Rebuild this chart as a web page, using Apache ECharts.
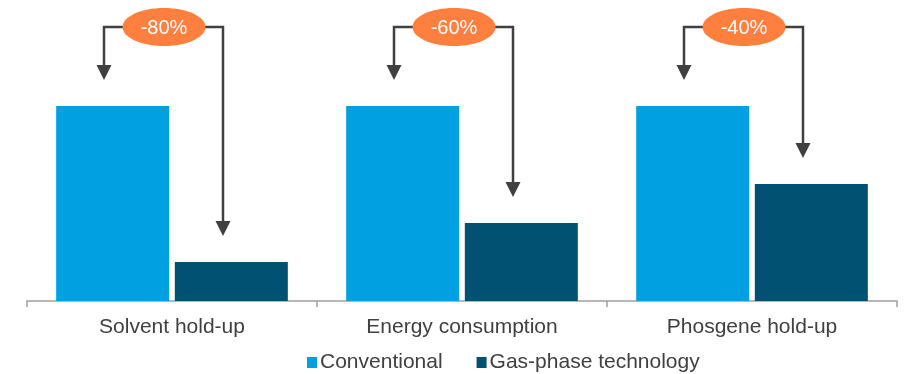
<!DOCTYPE html>
<html>
<head>
<meta charset="utf-8">
<script src="https://cdn.jsdelivr.net/npm/echarts@6/dist/echarts.min.js"></script>
<style>
  html, body { margin: 0; padding: 0; background: #ffffff; }
  #chart { width: 907px; height: 374px; }
</style>
</head>
<body>
<div id="chart"></div>
<script>
// Categories and relative values (conventional process = 100)
const categories = ['Solvent hold-up', 'Energy consumption', 'Phosgene hold-up'];
const conventional = [100, 100, 100];
const gasPhase = [20, 40, 60];
const reductionLabels = ['-80%', '-60%', '-40%'];

const FONT = '"Liberation Sans", Arial, sans-serif';
const TEXT = '#404040';
const ARROW = '#404040';

// One arrow record per category: [categoryIndex, conventionalValue, gasPhaseValue]
const arrowData = categories.map((c, i) => [i, conventional[i], gasPhase[i]]);

function renderArrow(params, api) {
  const idx = api.value(0);
  const base = api.coord([idx, 0]);
  const cx = base[0];
  const topLeft = api.coord([idx, api.value(1)]);
  const topRight = api.coord([idx, api.value(2)]);
  const lineY = 27;
  const leftX = cx - 68;
  const rightX = cx + 51;
  const leftTip = topLeft[1] - 26;
  const rightTip = topRight[1] - 26;
  const head = 15;
  const halfW = 7.5;
  const label = reductionLabels[params.dataIndex];
  return {
    type: 'group',
    children: [
      {
        type: 'polyline',
        shape: { points: [[leftX, leftTip - head + 1], [leftX, lineY], [rightX, lineY], [rightX, rightTip - head + 1]] },
        style: { stroke: ARROW, lineWidth: 2.5, fill: null }
      },
      {
        type: 'polygon',
        shape: { points: [[leftX - halfW, leftTip - head], [leftX + halfW, leftTip - head], [leftX, leftTip]] },
        style: { fill: ARROW }
      },
      {
        type: 'polygon',
        shape: { points: [[rightX - halfW, rightTip - head], [rightX + halfW, rightTip - head], [rightX, rightTip]] },
        style: { fill: ARROW }
      },
      {
        type: 'ellipse',
        shape: { cx: cx - 8, cy: lineY, rx: 41.5, ry: 19 },
        style: { fill: '#FF7F3F' }
      },
      {
        type: 'text',
        style: {
          x: cx - 8, y: lineY + 1,
          text: label,
          fill: '#ffffff',
          font: '20px ' + FONT,
          align: 'center',
          verticalAlign: 'middle'
        }
      }
    ]
  };
}

const chart = echarts.init(document.getElementById('chart'), null, { renderer: 'canvas' });
chart.setOption({
  animation: false,
  backgroundColor: '#ffffff',
  grid: { left: 27, right: 10, top: 8.5, bottom: 73 },
  legend: {
    top: 352,
    left: 307,
    padding: 0,
    itemWidth: 10,
    itemHeight: 11,
    itemGap: 34,
    icon: 'rect',
    textStyle: { color: TEXT, fontSize: 21, fontFamily: FONT, padding: [0, 0, 0, -2] },
    data: ['Conventional', 'Gas-phase technology']
  },
  xAxis: {
    type: 'category',
    data: categories,
    axisLine: { lineStyle: { color: '#a0a0a0', width: 1.5 } },
    axisTick: { show: true, length: 6, lineStyle: { color: '#a0a0a0', width: 1.5 } },
    axisLabel: { color: TEXT, fontSize: 21, fontFamily: FONT, margin: 16 }
  },
  yAxis: {
    type: 'value',
    min: 0,
    max: 150,
    show: false,
    splitLine: { show: false }
  },
  series: [
    {
      name: 'Conventional',
      type: 'bar',
      data: conventional,
      barWidth: 113,
      barGap: '5%',
      itemStyle: { color: '#00A0E1' }
    },
    {
      name: 'Gas-phase technology',
      type: 'bar',
      data: gasPhase,
      barWidth: 113,
      barGap: '5%',
      itemStyle: { color: '#005172' }
    },
    {
      name: 'arrows',
      type: 'custom',
      renderItem: renderArrow,
      data: arrowData,
      encode: { x: 0, y: [1, 2] },
      silent: true,
      z: 10
    }
  ]
});
</script>
</body>
</html>
